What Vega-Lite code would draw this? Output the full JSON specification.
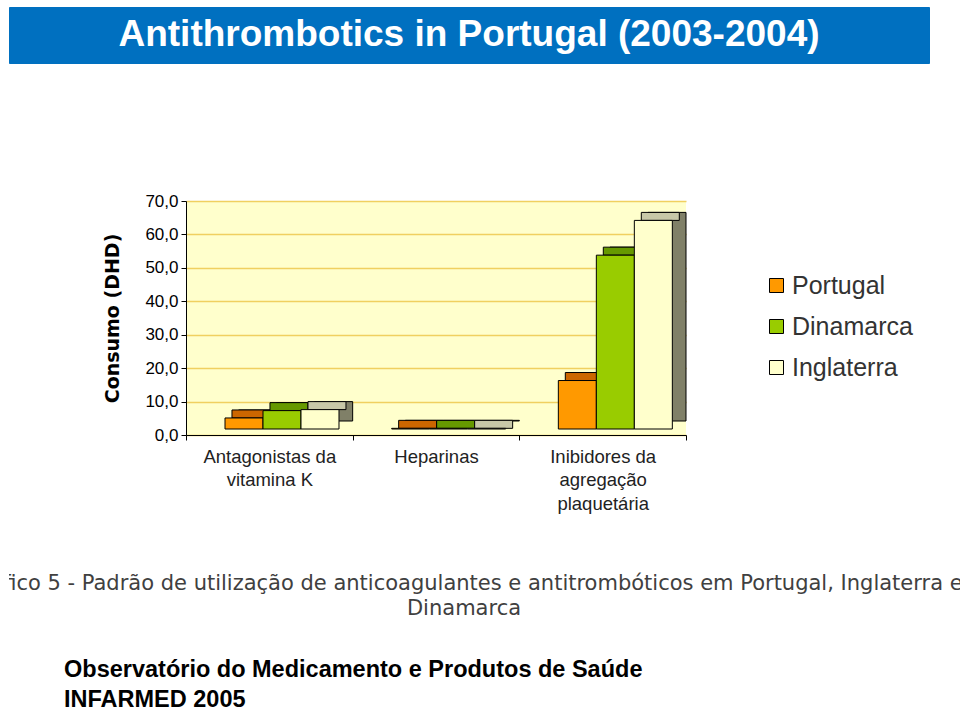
{
  "$schema": "https://vega.github.io/schema/vega-lite/v6.json",
  "padding": {"left": 8, "top": 6, "right": 0, "bottom": 0},
  "background": "#FFFFFF",
  "datasets": {
    "bars": [
      {"category": "Antagonistas da vitamina K", "country": "Portugal", "value": 3.3},
      {"category": "Antagonistas da vitamina K", "country": "Dinamarca", "value": 5.5},
      {"category": "Antagonistas da vitamina K", "country": "Inglaterra", "value": 5.8},
      {"category": "Heparinas", "country": "Portugal", "value": 0.2},
      {"category": "Heparinas", "country": "Dinamarca", "value": 0.2},
      {"category": "Heparinas", "country": "Inglaterra", "value": 0.2},
      {"category": "Inibidores da agregação plaquetária", "country": "Portugal", "value": 14.5},
      {"category": "Inibidores da agregação plaquetária", "country": "Dinamarca", "value": 52.0},
      {"category": "Inibidores da agregação plaquetária", "country": "Inglaterra", "value": 62.4}
    ]
  },
  "vconcat": [
    {
      "spacing": 128,
      "vconcat": [
        {
          "width": 920,
          "height": 56,
          "view": {"fill": "#0070C0", "stroke": "#0070C0"},
          "data": {"values": [{"t": "Antithrombotics in Portugal (2003-2004)"}]},
          "mark": {"type": "text", "color": "#FFFFFF", "font": "Liberation Sans", "fontWeight": "bold", "fontSize": 37},
          "encoding": {"text": {"field": "t", "type": "nominal"}}
        },
        {
          "spacing": 0,
          "hconcat": [
            {
              "width": 94,
              "height": 10,
              "view": {"stroke": null},
              "data": {"values": [{"t": ""}]},
              "mark": {"type": "text"},
              "encoding": {"text": {"field": "t", "type": "nominal"}}
            },
            {
              "width": 500,
              "height": 234,
              "view": {"fill": "#FFFFCC", "stroke": null},
              "data": {"name": "bars"},
              "encoding": {
                "x": {"field": "category", "type": "nominal", "sort": ["Antagonistas da vitamina K", "Heparinas", "Inibidores da agregação plaquetária"], "scale": {"paddingInner": 0, "paddingOuter": 0},
                  "axis": {"title": null, "labelAngle": 0, "labelExpr": "datum.label == 'Antagonistas da vitamina K' ? ['Antagonistas da', 'vitamina K'] : datum.label == 'Inibidores da agregação plaquetária' ? ['Inibidores da', 'agregação', 'plaquetária'] : datum.label", "labelFont": "Liberation Sans", "labelFontSize": 18.5, "labelColor": "#222222", "labelLineHeight": 23.5, "labelPadding": 7, "labelLimit": 0, "tickBand": "extent", "tickColor": "#000000", "tickSize": 5, "domainColor": "#000000"}},
                "y": {"field": "value", "type": "quantitative", "stack": null, "scale": {"domain": [0, 70], "nice": false},
                  "axis": {"title": "Consumo (DHD)", "values": [0, 10, 20, 30, 40, 50, 60, 70], "labelExpr": "replace(format(datum.value, '.1f'), '.', ',')", "labelFont": "Liberation Sans", "labelFontSize": 17, "labelColor": "#000000", "labelPadding": 3, "tickColor": "#000000", "tickSize": 5, "domainColor": "#000000", "grid": true, "gridColor": "#F0D060", "gridWidth": 1.5, "titleFont": "DejaVu Sans", "titleFontSize": 19, "titleFontWeight": "bold", "titleColor": "#000000", "titlePadding": 22}}
              },
              "layer": [
                {
                  "mark": {"type": "bar", "stroke": "#000000", "strokeWidth": 1, "yOffset": -14, "y2Offset": -14},
                  "encoding": {
                    "xOffset": {"field": "country", "type": "nominal", "sort": ["Portugal", "Dinamarca", "Inglaterra"], "scale": {"paddingInner": 0, "paddingOuter": 0.693, "align": 1}},
                    "y2": {"datum": 0},
                    "color": {"field": "country", "type": "nominal", "scale": {"domain": ["Portugal", "Dinamarca", "Inglaterra"], "range": ["#A65A00", "#557A00", "#808068"]}, "legend": null}
                  }
                },
                {
                  "mark": {"type": "bar", "stroke": "#000000", "strokeWidth": 1, "yOffset": -14, "y2Offset": -6},
                  "encoding": {
                    "xOffset": {"field": "country", "type": "nominal", "sort": ["Portugal", "Dinamarca", "Inglaterra"], "scale": {"paddingInner": 0, "paddingOuter": 0.693, "align": 0.873}},
                    "y2": {"field": "value"},
                    "color": {"field": "country", "type": "nominal", "scale": {"domain": ["Portugal", "Dinamarca", "Inglaterra"], "range": ["#CC6600", "#669900", "#C8C8A8"]}, "legend": null}
                  }
                },
                {
                  "mark": {"type": "bar", "stroke": "#000000", "strokeWidth": 1, "yOffset": -6, "y2Offset": -6},
                  "encoding": {
                    "xOffset": {"field": "country", "type": "nominal", "sort": ["Portugal", "Dinamarca", "Inglaterra"], "scale": {"paddingInner": 0, "paddingOuter": 0.693, "align": 0.7405}},
                    "y2": {"datum": 0},
                    "color": {"field": "country", "type": "nominal", "scale": {"domain": ["Portugal", "Dinamarca", "Inglaterra"], "range": ["#FF9900", "#99CC00", "#FFFFCC"]},
                      "legend": {"orient": "none", "legendX": 578, "legendY": 72, "title": null, "labelFont": "Liberation Sans", "labelFontSize": 25, "labelColor": "#333333", "symbolType": "square", "symbolSize": 196, "symbolStrokeColor": "#000000", "symbolStrokeWidth": 1, "rowPadding": 15, "labelOffset": 3, "padding": 0}}
                  }
                }
              ],
              "resolve": {"scale": {"xOffset": "independent", "color": "independent"}, "legend": {"color": "independent"}}
            }
          ]
        }
      ]
    },
    {
      "width": 952,
      "height": 64,
      "view": {"stroke": null},
      "data": {"values": [{"t": "Gráfico 5 - Padrão de utilização de anticoagulantes e antitrombóticos em Portugal, Inglaterra e\nDinamarca"}]},
      "mark": {"type": "text", "clip": true, "dx": -21, "font": "DejaVu Sans", "fontSize": 21, "lineHeight": 25, "color": "#404040", "lineBreak": "\n"},
      "encoding": {"text": {"field": "t", "type": "nominal"}},
      "title": {"text": ["Observatório do Medicamento e Produtos de Saúde", "INFARMED 2005"], "orient": "bottom", "anchor": "start", "dx": 55, "font": "Liberation Sans", "fontWeight": "bold", "fontSize": 23.5, "lineHeight": 30, "offset": 42, "color": "#000000"}
    }
  ],
  "spacing": 39
}
